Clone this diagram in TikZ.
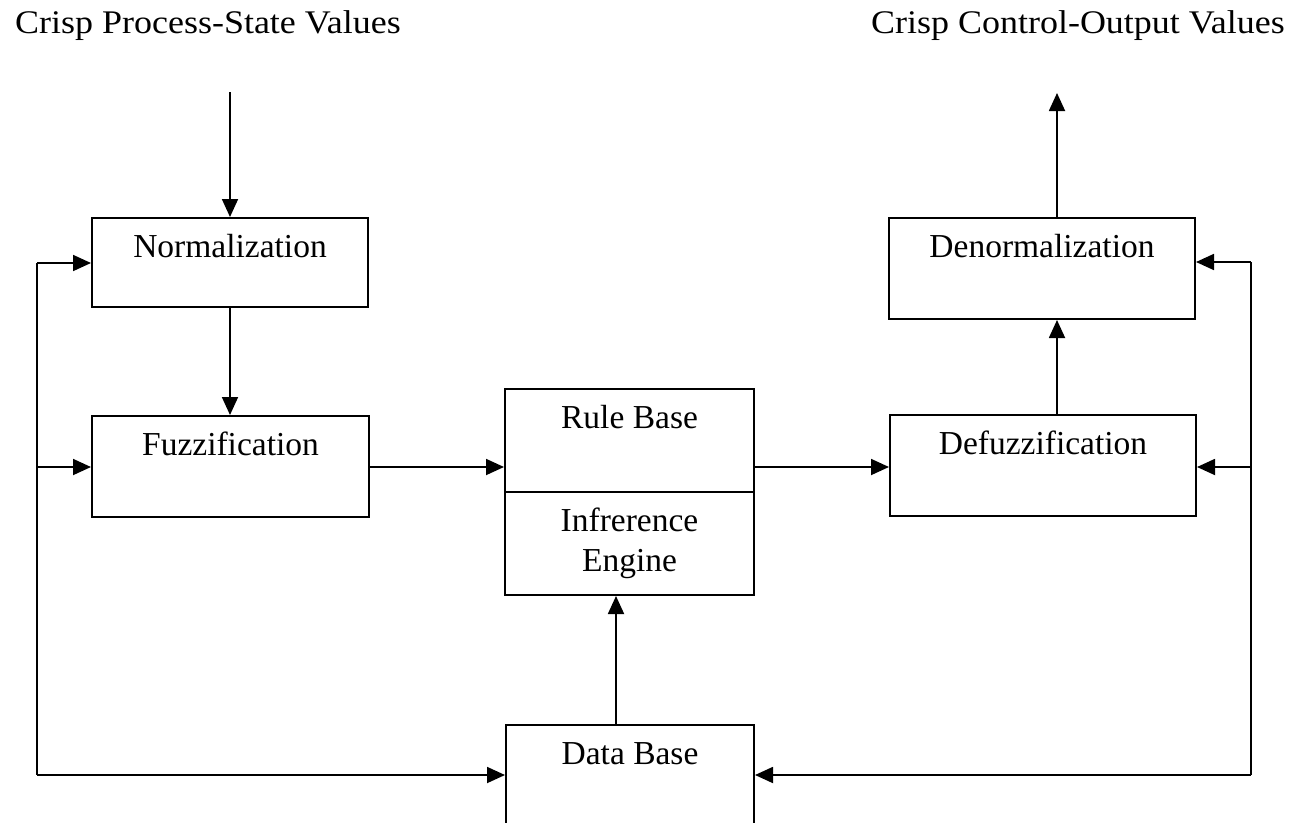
\documentclass[tikz,border=0pt]{standalone}
\usepackage{fontspec}
\setmainfont{Liberation Serif}
\usetikzlibrary{arrows.meta}
\begin{document}
\begin{tikzpicture}[x=1pt,y=-1pt,
  box/.style={draw, line width=2pt, rectangle, inner sep=0pt},
  lbl/.style={anchor=base, inner sep=0pt, font=\fontsize{33.5}{40}\selectfont},
  ttl/.style={inner sep=0pt, font=\fontsize{33}{38}\selectfont},
  conn/.style={line width=1.8pt},
  arr/.style={conn, -{Triangle[length=18pt,width=16pt]}},
]
\useasboundingbox (0,0) rectangle (1298,822);

% boxes
\node[box, minimum width=276pt, minimum height=89pt]  (norm)   at (230,262.5)  {};
\node[box, minimum width=277pt, minimum height=101pt] (fuzz)   at (230.5,466.5) {};
\node[box, minimum width=249pt, minimum height=103pt] (rule)   at (629.5,440.5) {};
\node[box, minimum width=249pt, minimum height=103pt] (eng)    at (629.5,543.5) {};
\node[box, minimum width=248pt, minimum height=100pt] (db)     at (630,775)     {};
\node[box, minimum width=306pt, minimum height=101pt] (denorm) at (1042,268.5)  {};
\node[box, minimum width=306pt, minimum height=101pt] (defuzz) at (1043,465.5)  {};

% labels
\node[lbl] (normT)   at ([yshift=-40pt]norm.north)   {Normalization};
\node[lbl] (fuzzT)   at ([yshift=-40pt]fuzz.north)   {Fuzzification};
\node[lbl] (ruleT)   at ([yshift=-40pt]rule.north)   {Rule Base};
\node[lbl] (engT)    at ([yshift=-40pt]eng.north)    {\begin{tabular}[t]{@{}c@{}}Infrerence\\Engine\end{tabular}};
\node[lbl] (dbT)     at ([yshift=-40pt]db.north)     {Data Base};
\node[lbl] (denormT) at ([yshift=-40pt]denorm.north) {Denormalization};
\node[lbl] (defuzzT) at ([yshift=-40pt]defuzz.north) {Defuzzification};

% titles
\node[ttl, anchor=base west] (tin)  at (15,33)   {\scalebox{1.09}[1]{Crisp Process-State Values}};
\node[ttl, anchor=base east] (tout) at (1285,33) {\scalebox{1.09}[1]{Crisp Control-Output Values}};

% coordinates
\coordinate (in)  at (230,92);
\coordinate (out) at (1057,93);
\coordinate (L1)  at (37,263);
\coordinate (L2)  at (37,467);
\coordinate (L3)  at (37,775);
\coordinate (R1)  at (1251,262);
\coordinate (R2)  at (1251,467);
\coordinate (R3)  at (1251,775);
\coordinate (up)  at (616,725);

% connectors
\draw[arr] (in) -- (norm.north);
\draw[arr] (norm.south) -- (norm.south |- fuzz.north);
\draw[conn] (L1) -- (L3);
\draw[arr] (L1) -- (L1 -| norm.west);
\draw[arr] (L2) -- (L2 -| fuzz.west);
\draw[arr] (L3) -- (db.west);
\draw[conn] (R1) -- (R3);
\draw[arr] (R1) -- (R1 -| denorm.east);
\draw[arr] (R2) -- (R2 -| defuzz.east);
\draw[arr] (R3) -- (db.east);
\draw[arr] (L2 -| fuzz.east) -- (L2 -| rule.west);
\draw[arr] (L2 -| rule.east) -- (L2 -| defuzz.west);
\draw[arr] (out |- defuzz.north) -- (out |- denorm.south);
\draw[arr] (out |- denorm.north) -- (out);
\draw[arr] (up |- db.north) -- (up |- eng.south);
\end{tikzpicture}
\end{document}
